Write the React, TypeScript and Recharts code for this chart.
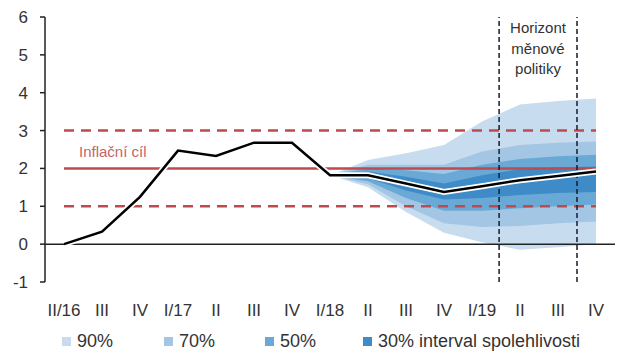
import React from 'react';
import {
  ComposedChart,
  Line,
  Area,
  XAxis,
  YAxis,
  ReferenceLine,
} from 'recharts';

const categories = ['II/16', 'III', 'IV', 'I/17', 'II', 'III', 'IV', 'I/18', 'II', 'III', 'IV', 'I/19', 'II', 'III', 'IV'];
const inflation = [0.0, 0.33, 1.25, 2.47, 2.33, 2.68, 2.68, 1.82, 1.82, 1.6, 1.38, 1.53, 1.69, 1.8, 1.92];

// fan bands (lower / upper), only the forecast part
const lo90 = [null, null, null, null, null, null, null, 1.82, 1.5, 0.85, 0.3, 0.05, -0.15, -0.08, 0.0];
const hi90 = [null, null, null, null, null, null, null, 1.82, 2.22, 2.4, 2.62, 3.24, 3.69, 3.78, 3.85];
const lo70 = [null, null, null, null, null, null, null, 1.82, 1.58, 1.0, 0.55, 0.45, 0.48, 0.55, 0.6];
const hi70 = [null, null, null, null, null, null, null, 1.82, 2.1, 2.1, 2.1, 2.45, 2.62, 2.68, 2.71];
const lo50 = [null, null, null, null, null, null, null, 1.82, 1.66, 1.22, 0.88, 0.88, 0.95, 1.0, 1.05];
const hi50 = [null, null, null, null, null, null, null, 1.82, 2.0, 1.95, 1.85, 2.1, 2.25, 2.32, 2.36];
const lo30 = [null, null, null, null, null, null, null, 1.82, 1.74, 1.42, 1.18, 1.22, 1.3, 1.35, 1.38];
const hi30 = [null, null, null, null, null, null, null, 1.82, 1.92, 1.78, 1.6, 1.82, 1.98, 2.03, 2.05];

const yTicks = [-1, 0, 1, 2, 3, 4, 5, 6];
const target = 2;
const tolerance = [1, 3];
const horizon = [11.45, 13.5];

const band = (lo: (number | null)[], hi: (number | null)[], i: number) =>
  lo[i] == null || hi[i] == null ? null : [lo[i], hi[i]];

const data = categories.map((c, i) => ({
  x: i,
  label: c,
  inflation: inflation[i],
  b90: band(lo90, hi90, i),
  b70: band(lo70, hi70, i),
  b50: band(lo50, hi50, i),
  b30: band(lo30, hi30, i),
}));

const colors = { b90: '#c8dcef', b70: '#a2c6e3', b50: '#6aa9d6', b30: '#3f8bc7' };
const red = '#bf4a4c';
const font = '"Liberation Sans", Arial, sans-serif';

const legendItems = [
  { label: '90%', color: colors.b90, left: 62 },
  { label: '70%', color: colors.b70, left: 164 },
  { label: '50%', color: colors.b50, left: 265 },
  { label: '30% interval spolehlivosti', color: colors.b30, left: 363 },
];

export default function App() {
  const last = categories.length - 1;
  return (
    <div style={{ position: 'fixed', left: 0, top: 0, width: 640, height: 361, background: '#fff', fontFamily: font }}>
      <ComposedChart width={640} height={361} data={data} margin={{ top: 17, right: 25, bottom: 49, left: 0 }}>
        <XAxis
          dataKey="x"
          type="number"
          domain={[-0.5, last + 0.5]}
          ticks={categories.map((_, i) => i)}
          tickFormatter={(v: number) => categories[v]}
          axisLine={false}
          tickLine={false}
          interval={0}
          tick={{ fill: '#333', fontSize: 17, fontFamily: font, dy: 14 }}
          height={30}
        />
        <YAxis
          domain={[-1, 6]}
          ticks={yTicks}
          width={45}
          axisLine={{ stroke: '#222', strokeWidth: 1.5 }}
          tickLine={{ stroke: '#222', strokeWidth: 1.5 }}
          tickSize={5}
          tickMargin={12}
          tick={{ fill: '#333', fontSize: 17, fontFamily: font }}
        />
        <Area dataKey="b90" type="linear" fill={colors.b90} fillOpacity={1} stroke="none" isAnimationActive={false} />
        <Area dataKey="b70" type="linear" fill={colors.b70} fillOpacity={1} stroke="none" isAnimationActive={false} />
        <Area dataKey="b50" type="linear" fill={colors.b50} fillOpacity={1} stroke="none" isAnimationActive={false} />
        <Area dataKey="b30" type="linear" fill={colors.b30} fillOpacity={1} stroke="none" isAnimationActive={false} />
        <ReferenceLine y={0} stroke="#222" strokeWidth={1.5} />
        <ReferenceLine
          segment={[{ x: 0, y: tolerance[1] }, { x: last, y: tolerance[1] }]}
          stroke={red}
          strokeWidth={2.5}
          strokeDasharray="10 7"
        />
        <ReferenceLine
          segment={[{ x: 0, y: tolerance[0] }, { x: last, y: tolerance[0] }]}
          stroke={red}
          strokeWidth={2.5}
          strokeDasharray="10 7"
        />
        <ReferenceLine segment={[{ x: 0, y: target }, { x: last, y: target }]} stroke={red} strokeWidth={2.5} />
        {horizon.map((h) => (
          <ReferenceLine key={h} x={h} stroke="#1a1a2e" strokeWidth={1.5} strokeDasharray="5 3" />
        ))}
        <Line dataKey="inflation" type="linear" stroke="#fff" strokeWidth={6} dot={false} isAnimationActive={false} />
        <Line dataKey="inflation" type="linear" stroke="#000" strokeWidth={2.5} dot={false} isAnimationActive={false} />
      </ComposedChart>
      <div style={{ position: 'absolute', left: 79, top: 143, fontSize: 15, color: '#c86466', lineHeight: '18px' }}>
        Inflační cíl
      </div>
      <div
        style={{
          position: 'absolute',
          left: 499,
          top: 18,
          width: 78,
          textAlign: 'center',
          fontSize: 15,
          color: '#333',
          lineHeight: '20.5px',
        }}
      >
        Horizont
        <br />
        měnové
        <br />
        politiky
      </div>
      {legendItems.map((it) => (
        <div key={it.label} style={{ position: 'absolute', left: it.left, top: 331, display: 'flex', alignItems: 'center', fontSize: 18, color: '#333' }}>
          <span style={{ display: 'inline-block', width: 9, height: 9, background: it.color, marginRight: 6 }} />
          <span>{it.label}</span>
        </div>
      ))}
    </div>
  );
}
